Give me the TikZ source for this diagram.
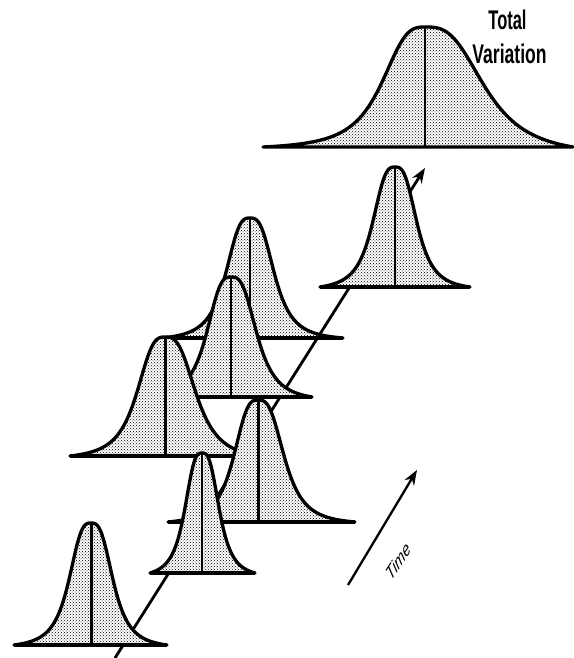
\documentclass[tikz,border=0pt]{standalone}
\usepackage{fontspec}
\newfontfamily\arialfont{Liberation Sans}
\usetikzlibrary{arrows.meta,patterns}
\tikzset{
  bellarea/.style={preaction={fill=white}, pattern=crosshatch dots, pattern color=black,
    draw=black, line width=3.3pt, line join=round},
  axisline/.style={line width=2.8pt, -{Stealth[length=15pt,width=11pt]}},
  timeline/.style={line width=2.3pt, -{Stealth[length=15pt,width=11pt]}},
  bigtext/.style={inner sep=0pt, anchor=base, font=\arialfont\bfseries\fontsize{27}{32}\selectfont},
}
% #1 centre x, #2 baseline y, #3 height, #4 left scale, #5 right scale,
% #6 left extent, #7 right extent, #8 centre line width, #9 baseline width
\newcommand\bellcurve[9]{%
  \path[bellarea]
    plot[domain={#1-#6}:{#1}, samples=70]
      (\x,{#2-#3*(1/(1+(abs((\x-#1)/#4))^3)-1/(1+(#6/#4)^3))/(1-1/(1+(#6/#4)^3))})
    -- plot[domain={#1}:{#1+#7}, samples=70]
      (\x,{#2-#3*(1/(1+(abs((\x-#1)/#5))^3)-1/(1+(#7/#5)^3))/(1-1/(1+(#7/#5)^3))})
    -- cycle;
  \draw[line width=#8] (#1,#2) -- (#1,#2-#3);
  \draw[line width=#9] (#1-#6,#2) -- (#1+#7,#2);
}
\begin{document}
\begin{tikzpicture}[x=1pt,y=-1pt]
\useasboundingbox (0,0) rectangle (573,658);
% time axis behind the curves
\coordinate (a0) at (115,658);
\coordinate (a1) at (425,168);
\draw[axisline] (a0) -- (a1);
% curves, back to front
\bellcurve{425}{147}{120}{46}{63}{162}{148}{1.2pt}{2.6pt}
\bellcurve{395}{287}{120}{24}{23.5}{75}{75}{1.6pt}{4pt}
\bellcurve{250}{338}{120}{26}{26}{88}{93}{2.4pt}{4.2pt}
\bellcurve{231}{397}{120}{26}{27.5}{85}{81}{2.4pt}{4.2pt}
\bellcurve{165}{456}{119}{30}{33}{95}{95}{3pt}{4.2pt}
\bellcurve{258}{522}{122}{26}{28}{90}{97}{3pt}{4.2pt}
\bellcurve{202}{573}{120}{18.5}{18.5}{52}{53}{2.4pt}{3.6pt}
\bellcurve{91}{645}{122}{23.5}{23.5}{77}{76}{3pt}{4.2pt}
% labels
\node[bigtext] (total) at (507.5,30) {\scalebox{0.61}[1]{Total}};
\node[bigtext] (variation) at (509.5,64) {\scalebox{0.65}[1]{Variation}};
% time arrow
\coordinate (t0) at (348,585);
\coordinate (t1) at (417,470);
\draw[timeline] (t0) -- (t1);
\node[inner sep=0pt] (timelabel) at (398,561)
  {\scalebox{0.65}[1]{\rotatebox{45}{\arialfont\fontsize{20}{20}\selectfont\itshape Time}}};
\end{tikzpicture}
\end{document}
